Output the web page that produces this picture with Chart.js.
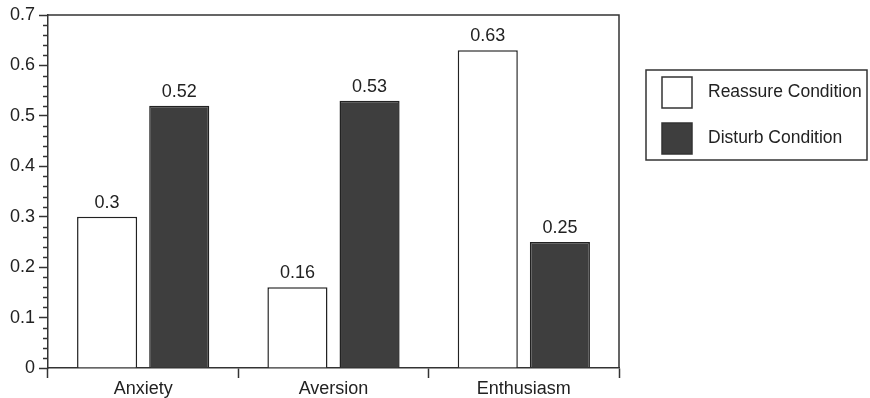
<!DOCTYPE html>
<html>
<head>
<meta charset="utf-8">
<script src="https://cdn.jsdelivr.net/npm/chart.js@4/dist/chart.umd.min.js"></script>
<style>
  html, body { margin: 0; padding: 0; background: #fff; }
  #wrap { width: 870px; height: 398px; }
</style>
</head>
<body>
<div id="wrap"><canvas id="chart"></canvas></div>
<script>
// Data
const categories = ['Anxiety', 'Aversion', 'Enthusiasm'];
const reassureValues = [0.3, 0.16, 0.63];
const disturbValues = [0.52, 0.53, 0.25];
const seriesLabels = ['Reassure Condition', 'Disturb Condition'];
const yMin = 0;
const yMax = 0.7;
const yStep = 0.1;
const yMinorStep = 0.02;

const FONT = 'Liberation Sans, Arial, Helvetica, sans-serif';
const INK = '#222';
const DARK = '#3e3e3e';

// Minor ticks, value labels, frame and boxed legend
const extrasPlugin = {
  id: 'extras',
  afterDraw(chart) {
    const ctx = chart.ctx;
    const area = chart.chartArea;
    const y = chart.scales.y;
    ctx.save();
    ctx.strokeStyle = '#333';
    ctx.lineWidth = 1.5;

    // minor ticks on y axis
    const n = Math.round((yMax - yMin) / yMinorStep);
    const perMajor = Math.round(yStep / yMinorStep);
    for (let i = 0; i <= n; i++) {
      if (i % perMajor === 0) continue;
      const py = Math.round(y.getPixelForValue(yMin + i * yMinorStep)) + 0.5;
      ctx.beginPath();
      ctx.moveTo(area.left - 5, py);
      ctx.lineTo(area.left, py);
      ctx.stroke();
    }

    // top and right frame
    ctx.beginPath();
    ctx.moveTo(area.left, area.top);
    ctx.lineTo(area.right, area.top);
    ctx.lineTo(area.right, area.bottom);
    ctx.stroke();

    // value labels
    ctx.fillStyle = INK;
    ctx.font = '18px ' + FONT;
    ctx.textAlign = 'center';
    ctx.textBaseline = 'alphabetic';
    chart.data.datasets.forEach((ds, di) => {
      const meta = chart.getDatasetMeta(di);
      meta.data.forEach((bar, i) => {
        ctx.fillText(String(ds.data[i]), bar.x, bar.y - 9);
      });
    });

    // legend box
    const lx = area.right + 27;
    const ly = 70;
    const lw = 221;
    const lh = 90;
    ctx.lineWidth = 1.5;
    ctx.strokeStyle = '#333';
    ctx.strokeRect(lx, ly, lw, lh);
    ctx.font = '17.5px ' + FONT;
    ctx.textAlign = 'left';
    ctx.textBaseline = 'middle';
    chart.data.datasets.forEach((ds, di) => {
      const sy = ly + 7 + di * 46;
      ctx.fillStyle = ds.backgroundColor;
      ctx.fillRect(lx + 16, sy, 30, 31);
      ctx.strokeStyle = '#333';
      ctx.strokeRect(lx + 16, sy, 30, 31);
      ctx.fillStyle = INK;
      ctx.fillText(ds.label, lx + 62, sy + 15);
    });
    ctx.restore();
  }
};

new Chart(document.getElementById('chart'), {
  type: 'bar',
  data: {
    labels: categories,
    datasets: [
      {
        label: seriesLabels[0],
        data: reassureValues,
        backgroundColor: '#ffffff',
        borderColor: INK,
        borderWidth: 1.5
      },
      {
        label: seriesLabels[1],
        data: disturbValues,
        backgroundColor: DARK,
        borderColor: INK,
        borderWidth: 1.5
      }
    ]
  },
  options: {
    responsive: true,
    maintainAspectRatio: false,
    animation: false,
    categoryPercentage: 0.758,
    barPercentage: 0.833,
    layout: { padding: { top: 15, right: 251, left: 0, bottom: 0 } },
    plugins: {
      legend: { display: false },
      tooltip: { enabled: false }
    },
    scales: {
      x: {
        offset: true,
        grid: { offset: true, drawOnChartArea: false, tickLength: 10, tickColor: '#333', tickWidth: 1.5 },
        border: { color: '#333', width: 1.5 },
        ticks: { color: INK, font: { family: FONT, size: 18 }, padding: 0 },
        afterFit: s => { s.height = 30; }
      },
      y: {
        min: yMin,
        max: yMax,
        grid: { drawOnChartArea: false, tickLength: 9, tickColor: '#333', tickWidth: 1.5 },
        border: { color: '#333', width: 1.5 },
        ticks: {
          stepSize: yStep,
          color: INK,
          font: { family: FONT, size: 18 },
          padding: 4,
          callback: v => String(Math.round(v * 10) / 10)
        },
        afterFit: s => { s.width = 48; }
      }
    }
  },
  plugins: [extrasPlugin]
});
</script>
</body>
</html>
